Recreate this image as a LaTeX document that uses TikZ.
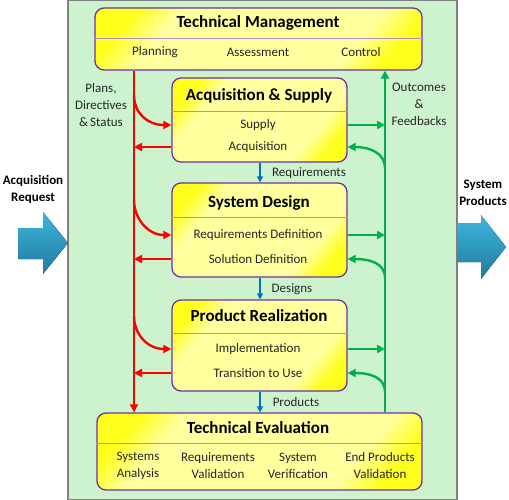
\documentclass[tikz,border=0pt]{standalone}
\usepackage{fontspec}
\setmainfont{Carlito}
\usetikzlibrary{arrows.meta}
\definecolor{bgg}{RGB}{205,243,206}
\definecolor{pur}{RGB}{112,48,160}
\definecolor{yelA}{RGB}{255,255,30}
\definecolor{yelB}{RGB}{255,255,158}
\definecolor{rd}{RGB}{255,0,0}
\definecolor{gr}{RGB}{0,176,80}
\definecolor{bl}{RGB}{0,112,192}
\definecolor{arrL}{RGB}{62,182,222}
\definecolor{arrD}{RGB}{32,122,156}
\definecolor{txt}{RGB}{38,38,38}
\pgfdeclarehorizontalshading{boxsh}{100bp}{color(0bp)=(yelA); color(23bp)=(yelA); color(31bp)=(yelB); color(69bp)=(yelB); color(77bp)=(yelA); color(100bp)=(yelA)}
\begin{document}
\begin{tikzpicture}[x=1pt,y=-1pt,
  box/.style={draw=pur, line width=1.3pt, rounded corners=9pt, shading=boxsh, shading angle=-40, inner sep=0pt},
  ttl/.style={font=\bfseries\fontsize{17}{20}\selectfont, text=black, inner sep=0pt},
  sub/.style={font=\fontsize{13}{17}\selectfont, text=txt, align=center, inner sep=0pt},
  big/.style={font=\bfseries\fontsize{13}{17}\selectfont, text=black, align=center, inner sep=0pt},
  divl/.style={draw=pur!55, line width=0.8pt},
  redl/.style={draw=rd, line width=2.4pt, -{Triangle[length=8pt,width=8pt]}},
  grl/.style={draw=gr, line width=2.4pt, -{Triangle[length=8pt,width=8pt]}},
  bll/.style={draw=bl, line width=2pt, -{Triangle[length=6pt,width=6pt]}},
  bigarrow/.style={top color=arrL, bottom color=arrD, draw=none}
]
\useasboundingbox (0,0) rectangle (509,500);
% background panel
\node[draw=gray, line width=1.5pt, fill=bgg, minimum width=389pt, minimum height=500pt, inner sep=0pt] (bg) at (262.5,250) {};

% boxes
\node[box, minimum width=327pt, minimum height=62pt] (tman) at (258.5,39) {};
\node[box, minimum width=175pt, minimum height=84pt] (acq) at (259.5,120) {};
\node[box, minimum width=175pt, minimum height=94pt] (sysd) at (259.5,230) {};
\node[box, minimum width=175pt, minimum height=91pt] (prod) at (259.5,345.5) {};
\node[box, minimum width=325pt, minimum height=77pt] (teval) at (259.5,451.5) {};

% dividers
\coordinate (d1) at (0,38);
\coordinate (d2) at (0,111);
\coordinate (d3) at (0,217);
\coordinate (d4) at (0,333);
\coordinate (d5) at (0,443);
\draw[divl] (tman.west |- d1) -- (tman.east |- d1);
\draw[divl] (acq.west |- d2) -- (acq.east |- d2);
\draw[divl] (sysd.west |- d3) -- (sysd.east |- d3);
\draw[divl] (prod.west |- d4) -- (prod.east |- d4);
\draw[divl] (teval.west |- d5) -- (teval.east |- d5);

% titles
\node[ttl] (tmt) at (258,23) {Technical Management};
\node[ttl] (acqtt) at (259,96) {Acquisition \& Supply};
\node[ttl] (sdt) at (259,203) {System Design};
\node[ttl] (prt) at (259,316) {Product Realization};
\node[ttl] (tet) at (258,428) {Technical Evaluation};

% sub texts
\node[sub] (plan) at (155,52) {Planning};
\node[sub] (asse) at (258,52) {Assessment};
\node[sub] (ctrl) at (361,52) {Control};
\node[sub] (sup) at (258,125) {Supply};
\node[sub] (acqi) at (258,147) {Acquisition};
\node[sub] (rdef) at (258,235) {Requirements Definition};
\node[sub] (sdef) at (258,259) {Solution Definition};
\node[sub] (impl) at (258,349) {Implementation};
\node[sub] (tuse) at (258,373) {Transition to Use};
\node[sub] (sana) at (138,465.5) {Systems\\Analysis};
\node[sub] (rval) at (218,465.5) {Requirements\\Validation};
\node[sub] (sver) at (298,465.5) {System\\Verification};
\node[sub] (eval) at (380,465.5) {End Products\\Validation};

% side labels
\node[sub] (pds) at (101,105) {Plans,\\Directives\\\&\,Status};
\node[sub] (ofb) at (419,104.5) {Outcomes\\\&\\Feedbacks};

% red lines
\coordinate (rx) at (134,0);
\draw[redl] (tman.south -| rx) -- (teval.north -| rx);
\coordinate (ra1) at (134,95);
\coordinate (ra2) at (134,200);
\coordinate (ra3) at (134,316);
\draw[redl] (ra1) .. controls +(0,18) and +(-24,0) .. (acq.west |- sup);
\draw[redl] (ra2) .. controls +(0,18) and +(-24,0) .. (sysd.west |- rdef);
\draw[redl] (ra3) .. controls +(0,18) and +(-24,0) .. (prod.west |- impl);
\draw[redl] (acq.west |- acqi) -- (rx |- acqi);
\draw[redl] (sysd.west |- sdef) -- (rx |- sdef);
\draw[redl] (prod.west |- tuse) -- (rx |- tuse);

% green lines
\coordinate (gx) at (385,0);
\draw[grl] (teval.north -| gx) -- (tman.south -| gx);
\draw[grl] (acq.east |- sup) -- (gx |- sup);
\draw[grl] (sysd.east |- rdef) -- (gx |- rdef);
\draw[grl] (prod.east |- impl) -- (gx |- impl);
\coordinate (ga1) at (385,168);
\coordinate (ga2) at (385,278);
\coordinate (ga3) at (385,392);
\draw[grl] (ga1) .. controls +(0,-15) and +(22,0) .. (acq.east |- acqi);
\draw[grl] (ga2) .. controls +(0,-15) and +(22,0) .. (sysd.east |- sdef);
\draw[grl] (ga3) .. controls +(0,-15) and +(22,0) .. (prod.east |- tuse);

% blue lines
\coordinate (bx) at (260,0);
\draw[bll] (acq.south -| bx) -- (sysd.north -| bx);
\draw[bll] (sysd.south -| bx) -- (prod.north -| bx);
\draw[bll] (prod.south -| bx) -- (teval.north -| bx);
\node[sub] (lreq) at (309,173) {Requirements};
\node[sub] (ldes) at (292,289) {Designs};
\node[sub] (lpro) at (296,402) {Products};

% big arrows
\fill[bigarrow] (18,228) -- (43,228) -- (43,212) -- (68,243) -- (43,274) -- (43,259) -- (18,259) -- cycle;
\fill[bigarrow] (457,223) -- (481,223) -- (481,215) -- (506,247) -- (481,279) -- (481,262) -- (457,262) -- cycle;
\node[big] (areq) at (33,189.5) {Acquisition\\Request};
\node[big] (sprod) at (483,193) {System\\Products};
\end{tikzpicture}
\end{document}
